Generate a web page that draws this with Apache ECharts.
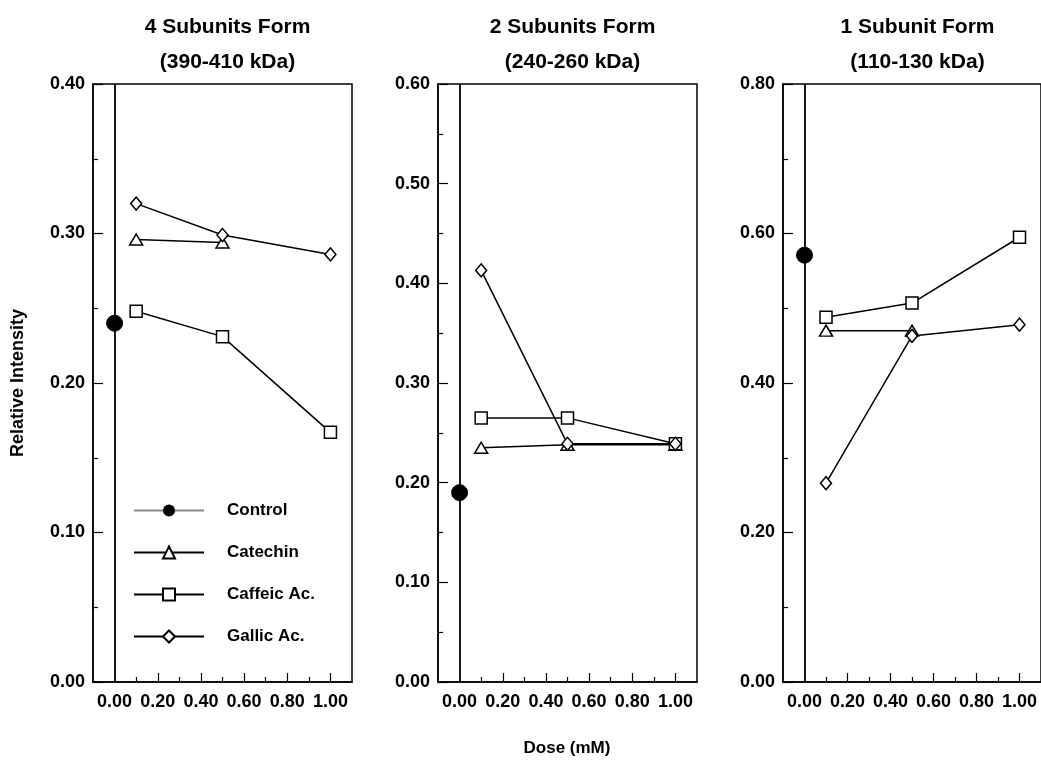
<!DOCTYPE html>
<html><head><meta charset="utf-8">
<script src="https://cdn.jsdelivr.net/npm/echarts@6/dist/echarts.min.js"></script>
<style>html,body{margin:0;padding:0;background:#fff}#c{width:1041px;height:761px}</style>
</head><body><div id="c"></div>
<script>
const panelTitles = ['4 Subunits Form\n(390-410 kDa)', '2 Subunits Form\n(240-260 kDa)', '1 Subunit Form\n(110-130 kDa)'];
const seriesNames = ['Control', 'Catechin', 'Caffeic Ac.', 'Gallic Ac.'];
const doses = [0.1, 0.5, 1.0];
const controlVals = [0.240, 0.190, 0.571];
const catechinVals = [[0.296, 0.294], [0.235, 0.238, 0.238], [0.470, 0.470]];
const caffeicVals = [[0.248, 0.231, 0.167], [0.265, 0.265, 0.239], [0.488, 0.507, 0.595]];
const gallicVals = [[0.320, 0.299, 0.286], [0.413, 0.239, 0.239], [0.266, 0.463, 0.478]];
const yMaxes = [0.4, 0.6, 0.8];
const yIntervals = [0.1, 0.1, 0.2];
const xMajorTicks = [0.2, 0.4, 0.6, 0.8, 1.0];
const xMinorTicks = [0.1, 0.3, 0.5, 0.7, 0.9];
const xLabels = [0, 0.2, 0.4, 0.6, 0.8, 1.0];

const FONT = '"Liberation Sans", Arial, sans-serif';
const gridLefts = [93, 438, 783];
const gridW = 259;
const lineW = 1.5;

const grids = [], xAxes = [], yAxes = [], series = [], titles = [];
gridLefts.forEach((gl, i) => {
  grids.push({left: gl, top: 84, width: gridW, height: 598, show: true, borderColor: '#000', borderWidth: lineW, backgroundColor: 'transparent'});
  titles.push({text: panelTitles[i], left: gl + gridW / 2, top: 5, textAlign: 'center',
    textStyle: {fontFamily: FONT, fontSize: 21, fontWeight: 'bold', color: '#000', lineHeight: 35}});
  xAxes.push({type: 'value', gridIndex: i, min: -0.1, max: 1.1, splitLine: {show: false},
    axisLine: {show: true, onZero: false, lineStyle: {color: '#000', width: lineW}},
    axisTick: {show: true, inside: true, length: 9, customValues: xMajorTicks, lineStyle: {color: '#000', width: 1.2}},
    axisLabel: {customValues: xLabels, formatter: v => v.toFixed(2), margin: 11, color: '#000',
      fontFamily: FONT, fontSize: 18, fontWeight: 'bold'}});
  xAxes.push({type: 'value', gridIndex: i, min: -0.1, max: 1.1, position: 'bottom', splitLine: {show: false},
    axisLine: {show: false, onZero: false},
    axisTick: {show: true, inside: true, length: 5, customValues: xMinorTicks, lineStyle: {color: '#000', width: 1.2}},
    axisLabel: {show: false}});
  const ya = {type: 'value', gridIndex: i, min: 0, max: yMaxes[i], interval: yIntervals[i], splitLine: {show: false},
    axisLine: {show: true, onZero: false, lineStyle: {color: '#000', width: lineW}},
    axisTick: {show: true, inside: true, length: 10, lineStyle: {color: '#000', width: 1.2}},
    minorTick: {show: true, splitNumber: 2, length: 5, lineStyle: {color: '#000', width: 1.2}},
    axisLabel: {formatter: v => v.toFixed(2), margin: 8, color: '#000', fontFamily: FONT, fontSize: 18, fontWeight: 'bold'}};
  if (i === 0) {
    ya.name = 'Relative Intensity';
    ya.nameLocation = 'middle';
    ya.nameRotate = 90;
    ya.nameGap = 66;
    ya.nameTextStyle = {fontFamily: FONT, fontSize: 18, fontWeight: 'bold', color: '#000'};
  }
  yAxes.push(ya);
  const xi = i * 2;
  const lineStyle = {color: '#000', width: lineW};
  const emptyItem = {color: '#fff', borderColor: '#000', borderWidth: lineW};
  series.push({name: 'Control', type: 'line', xAxisIndex: xi, yAxisIndex: i, data: [[0, controlVals[i]]],
    symbol: 'circle', symbolSize: 16, itemStyle: {color: '#000', borderColor: '#000'}, lineStyle: {color: '#888', width: 1},
    z: 5,
    markLine: {silent: true, symbol: ['none', 'none'], label: {show: false},
      lineStyle: {color: '#000', width: 1.8, type: 'solid'}, data: [{xAxis: 0}], animation: false}});
  series.push({name: 'Catechin', type: 'line', xAxisIndex: xi, yAxisIndex: i,
    data: catechinVals[i].map((v, k) => [doses[k], v]),
    symbol: 'triangle', symbolSize: [13, 11], itemStyle: emptyItem, lineStyle: lineStyle});
  series.push({name: 'Caffeic Ac.', type: 'line', xAxisIndex: xi, yAxisIndex: i,
    data: caffeicVals[i].map((v, k) => [doses[k], v]),
    symbol: 'rect', symbolSize: 12, itemStyle: emptyItem, lineStyle: lineStyle});
  series.push({name: 'Gallic Ac.', type: 'line', xAxisIndex: xi, yAxisIndex: i,
    data: gallicVals[i].map((v, k) => [doses[k], v]),
    symbol: 'diamond', symbolSize: [11, 13], itemStyle: emptyItem, lineStyle: lineStyle});
});
titles.push({text: 'Dose (mM)', left: 562, top: 735, textAlign: 'center',
  textStyle: {fontFamily: FONT, fontSize: 17, fontWeight: 'bold', color: '#000'}});

const chart = echarts.init(document.getElementById('c'), null, {renderer: 'canvas'});
chart.setOption({
  animation: false,
  backgroundColor: '#fff',
  title: titles,
  legend: {data: seriesNames, orient: 'vertical', left: 133, top: 502, padding: 0, itemWidth: 70, itemHeight: 15, itemGap: 25,
    selectedMode: false,
    textStyle: {fontFamily: FONT, fontSize: 17, fontWeight: 'bold', color: '#000', padding: [0, 0, 0, 18]}},
  grid: grids,
  xAxis: xAxes,
  yAxis: yAxes,
  series: series
});
</script></body></html>
